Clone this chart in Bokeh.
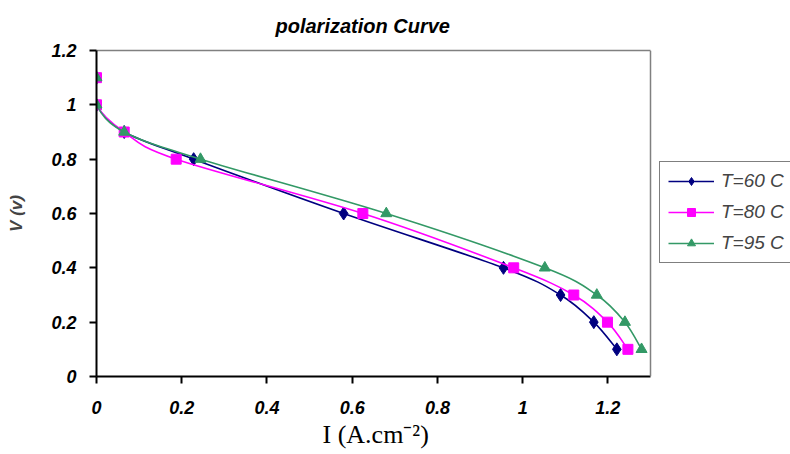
from bokeh.plotting import figure
from bokeh.models import Legend, LegendItem, FixedTicker, Range1d, LinearAxis, Span, Title
from bokeh.embed import file_html
from bokeh.resources import INLINE

# ---- data ----
v_levels = [1.1, 1.0, 0.9, 0.8, 0.6, 0.4, 0.3, 0.2, 0.1]
i_t60 = [0.0, 0.0, 0.065, 0.228, 0.58, 0.955, 1.089, 1.167, 1.221]
i_t80 = [0.0, 0.0, 0.065, 0.187, 0.625, 0.979, 1.120, 1.199, 1.247]
i_t95 = [0.0, 0.0, 0.065, 0.244, 0.680, 1.052, 1.174, 1.240, 1.279]
series_names = ["T=60 C", "T=80 C", "T=95 C"]
x_ticks = [0, 0.2, 0.4, 0.6, 0.8, 1.0, 1.2]
x_tick_labels = ["0", "0.2", "0.4", "0.6", "0.8", "1", "1.2"]
y_ticks = [0, 0.2, 0.4, 0.6, 0.8, 1.0, 1.2]
y_tick_labels = ["0", "0.2", "0.4", "0.6", "0.8", "1", "1.2"]
x_axis_max = 1.3
y_axis_max = 1.2

FONT = "Liberation Sans"

# plot-area geometry (pixels)
FRAME_LEFT = 96
PLOT_W = 554            # width of the chart's plot box
W, H = 790, 454
x_view_max = x_axis_max * (W - FRAME_LEFT) / PLOT_W


def smooth_segments(xs, ys):
    """Bezier segments (Excel-like smoothed line) through the data points."""
    n = len(xs)
    out = {k: [] for k in ("x0", "y0", "x1", "y1", "cx0", "cy0", "cx1", "cy1")}
    for k in range(n - 1):
        xa, ya = xs[max(k - 1, 0)], ys[max(k - 1, 0)]
        xb, yb = xs[k], ys[k]
        xc, yc = xs[k + 1], ys[k + 1]
        xd, yd = xs[min(k + 2, n - 1)], ys[min(k + 2, n - 1)]
        out["x0"].append(xb); out["y0"].append(yb)
        out["x1"].append(xc); out["y1"].append(yc)
        out["cx0"].append(xb + (xc - xa) / 6.0); out["cy0"].append(yb + (yc - ya) / 6.0)
        out["cx1"].append(xc - (xd - xb) / 6.0); out["cy1"].append(yc - (yd - yb) / 6.0)
    return out


p = figure(width=W, height=H, output_backend="svg", toolbar_location=None,
           x_range=Range1d(0, x_view_max), y_range=Range1d(0, y_axis_max),
           min_border_left=FRAME_LEFT, min_border_right=0, min_border_top=50,
           min_border_bottom=78, title="polarization Curve")

p.title.text_font = FONT
p.title.text_font_style = "bold italic"
p.title.text_font_size = "20px"
p.title.align = "left"
p.title.offset = 179
p.title.vertical_align = "top"
p.title.standoff = 24
p.title.text_color = "black"

p.outline_line_color = None
p.xgrid.visible = False
p.ygrid.visible = False

xax = p.below[0]
yax = p.left[0]
for ax, ticks, labels in ((xax, x_ticks, x_tick_labels), (yax, y_ticks, y_tick_labels)):
    ax.ticker = FixedTicker(ticks=ticks)
    ax.major_label_overrides = {t: l for t, l in zip(ticks, labels)}
    ax.minor_tick_line_color = None
    ax.major_tick_in = 0
    ax.major_tick_out = 7
    ax.major_tick_line_width = 2
    ax.major_tick_line_color = "black"
    ax.axis_line_color = "black"
    ax.axis_line_width = 2
    ax.major_label_text_font = FONT
    ax.major_label_text_font_style = "bold italic"
    ax.major_label_text_font_size = "18px"
    ax.major_label_text_color = "black"

xax.bounds = (0, x_axis_max)
xax.major_label_standoff = 17
yax.major_label_standoff = 13

yax.axis_label = "V (v)"
yax.axis_label_text_font = FONT
yax.axis_label_text_font_style = "bold italic"
yax.axis_label_text_font_size = "17px"
yax.axis_label_standoff = 22

# x-axis title, centred under the plot box
x_title = Title(text="I (A.cm\u207b\u00b2)", align="left", offset=226,
                text_font="Liberation Serif", text_font_style="normal",
                text_font_size="26px", text_color="black", standoff=2)
p.add_layout(x_title, "below")

# grey top and right borders of the plot box
top_axis = LinearAxis(bounds=(0, x_axis_max), ticker=FixedTicker(ticks=[]),
                      axis_line_color="#808080", axis_line_width=1.5,
                      major_tick_out=0, major_tick_in=0,
                      major_tick_line_color=None, minor_tick_line_color=None,
                      major_label_standoff=0)
p.add_layout(top_axis, "above")
p.add_layout(Span(location=x_axis_max, dimension="height", line_color="#808080", line_width=1.5))

colors = ["#000080", "#FF00FF", "#339966"]
markers = ["diamond", "square", "triangle"]
sizes = [13, 10, 11]
items = []
for name, xs, c, m, s in zip(series_names, [i_t60, i_t80, i_t95], colors, markers, sizes):
    seg = smooth_segments(xs, v_levels)
    bz = p.bezier(source=seg, x0="x0", y0="y0", x1="x1", y1="y1",
                  cx0="cx0", cy0="cy0", cx1="cx1", cy1="cy1",
                  line_color=c, line_width=1.6)
    sc = p.scatter(xs, v_levels, marker=m, size=s, fill_color=c, line_color=c)
    items.append(LegendItem(label=name, renderers=[bz, sc]))

legend = Legend(items=items, location=(563, 113), border_line_color="black",
                border_line_width=1, label_text_font=FONT, label_text_font_style="italic",
                label_text_font_size="19px", glyph_width=46, glyph_height=20,
                label_height=20, spacing=9, padding=8, margin=0,
                label_standoff=7, background_fill_alpha=1)
p.add_layout(legend, "center")

open("out.html", "w").write(file_html(p, INLINE))
